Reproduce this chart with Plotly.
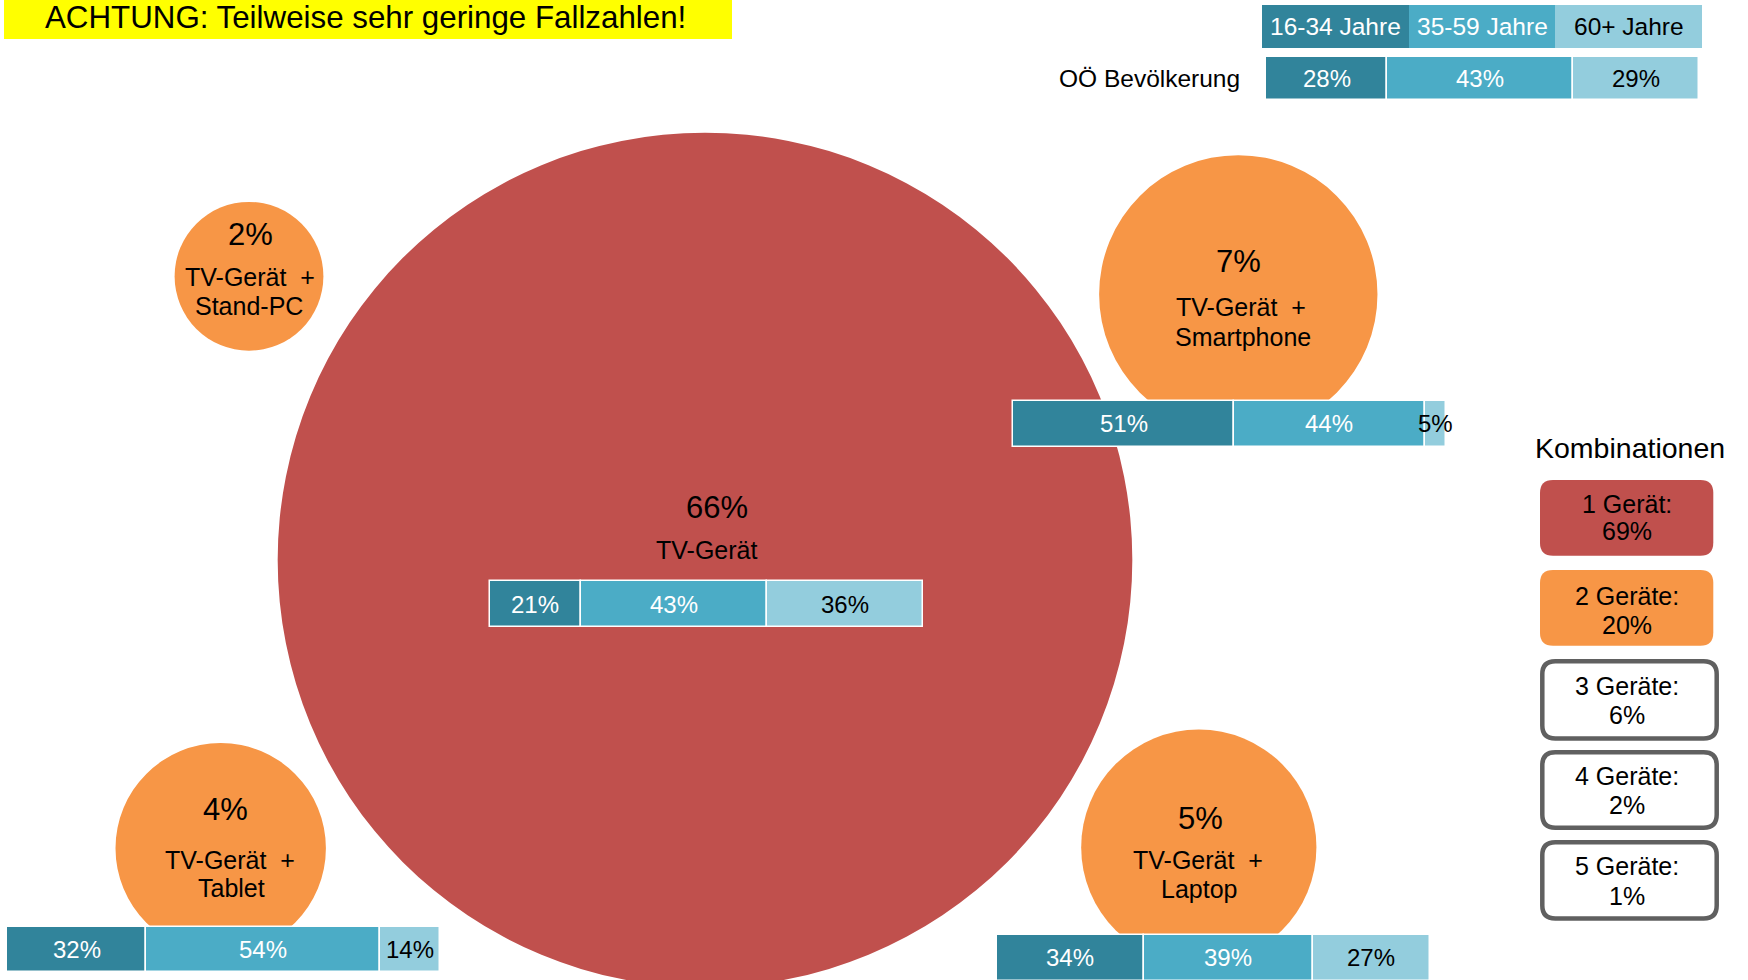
import plotly.graph_objects as go
import math

# ---------------- data ----------------
warning_text = "ACHTUNG: Teilweise sehr geringe Fallzahlen!"
age_groups = ["16-34 Jahre", "35-59 Jahre", "60+ Jahre"]
population_label = "OÖ Bevölkerung"
population_share = [28, 43, 29]

combo_pct_labels = ["66%", "7%", "5%", "4%", "2%"]
combo_share = [66, 7, 5, 4, 2]
combo_line1 = ["TV-Gerät", "TV-Gerät\u00a0 +", "TV-Gerät\u00a0 +", "TV-Gerät\u00a0 +", "TV-Gerät\u00a0 +"]
combo_line2 = ["", "Smartphone", "Laptop", "Tablet", "Stand-PC"]

# age split per combination (TV, Smartphone, Laptop, Tablet); Stand-PC has none
share_16_34 = [21, 51, 34, 32]
share_35_59 = [43, 44, 39, 54]
share_60plus = [36, 5, 27, 14]

legend_title = "Kombinationen"
legend_labels = ["1 Gerät:", "2 Geräte:", "3 Geräte:", "4 Geräte:", "5 Geräte:"]
legend_share = [69, 20, 6, 2, 1]

# ---------------- layout / style ----------------
W, H = 1748, 980
FONT = "Liberation Sans, Arial, sans-serif"
RED = "#C0504D"
ORANGE = "#F79646"
AGE_COLORS = ["#31849B", "#4BACC6", "#93CDDD"]
AGE_TEXT = ["white", "white", "black"]
GRAY = "#606060"

RADIUS_K = 52.6          # px per sqrt(percent)
BAR_SCALE = 4.33         # px per percent

circle_centers = [(705, 560), (1238.3, 294.3), (1198.8, 847.2), (220.7, 848.3), (249, 276.3)]
circle_colors = [RED, ORANGE, ORANGE, ORANGE, ORANGE]
pct_pos = [(717.4, 507), (1238.3, 261), (1200.5, 818), (225, 809), (250, 234)]
line1_pos = [(706, 550), (1241.3, 306.7), (1198.3, 859.7), (230, 859.5), (250, 277)]
line2_pos = [None, (1243.3, 337.3), (1198.7, 889), (231.7, 888.3), (249, 306)]

# bars: (left x, center y, height)
bar_pos = [(490, 604, 46), (1013.3, 423.7, 46), (996.7, 957.5, 46), (7.3, 949.2, 45)]
pop_bar = (1266, 78.3, 43)
header = (1262, 26.7, 43.3, 440)

legend_boxes = [
    (1540, 480, 1713.3, 555.7, RED, None),
    (1540, 570, 1713.3, 645.7, ORANGE, None),
    (1542.3, 661.3, 1716.7, 738.4, "white", GRAY),
    (1542.3, 752.3, 1716.7, 827.7, "white", GRAY),
    (1542.3, 842.3, 1716.7, 918.4, "white", GRAY),
]
legend_text_y = [(504, 531), (596, 625), (686, 715), (776, 805), (866, 896)]
legend_text_x = 1627

fig = go.Figure()
shapes = []
annotations = []

def ann(x, y, text, size, color="black", xanchor="center"):
    annotations.append(dict(x=x, y=y, xref="x", yref="y", text=text, showarrow=False,
                            xanchor=xanchor, yanchor="middle",
                            font=dict(family=FONT, size=size, color=color)))

# warning box
shapes.append(dict(type="rect", xref="x", yref="y", x0=4, x1=732, y0=0, y1=39,
                   fillcolor="#FFFF00", line=dict(width=0), layer="below"))
ann(365, 17, warning_text, 31.3)

# circles (area proportional to share)
for (cx, cy), p, col in zip(circle_centers, combo_share, circle_colors):
    r = RADIUS_K * math.sqrt(p)
    shapes.append(dict(type="circle", xref="x", yref="y", x0=cx - r, x1=cx + r,
                       y0=cy - r, y1=cy + r, fillcolor=col, line=dict(width=0), layer="below"))

for i in range(len(combo_share)):
    ann(pct_pos[i][0], pct_pos[i][1], combo_pct_labels[i], 31)
    ann(line1_pos[i][0], line1_pos[i][1], combo_line1[i], 25)
    if line2_pos[i] is not None:
        ann(line2_pos[i][0], line2_pos[i][1], combo_line2[i], 25)

# stacked age bars (combinations + population row)
series = [share_16_34, share_35_59, share_60plus]
rows = [(bp, [s[i] for s in series]) for i, bp in enumerate(bar_pos)]
rows.append((pop_bar, population_share))

for g in range(3):
    xs, bases, ys, ws = [], [], [], []
    for (left, cy, h), vals in rows:
        cum = sum(vals[:g])
        xs.append(vals[g] * BAR_SCALE)
        bases.append(left + cum * BAR_SCALE)
        ys.append(cy)
        ws.append(h)
    fig.add_trace(go.Bar(orientation="h", x=xs, base=bases, y=ys, width=ws,
                         marker=dict(color=AGE_COLORS[g], line=dict(color="white", width=1.5)),
                         hoverinfo="skip", showlegend=False))

for (left, cy, h), vals in rows:
    cum = 0
    for g, v in enumerate(vals):
        xc = left + (cum + v / 2) * BAR_SCALE
        ann(xc, cy, f"{v}%", 24, AGE_TEXT[g])
        cum += v

# header row (age group key)
hx, hy, hh, hw = header
for g, name in enumerate(age_groups):
    fig.add_trace(go.Bar(orientation="h", x=[hw / 3], base=[hx + g * hw / 3], y=[hy], width=[hh],
                         marker=dict(color=AGE_COLORS[g], line=dict(width=0)),
                         hoverinfo="skip", showlegend=False))
    ann(hx + (g + 0.5) * hw / 3, hy, name, 24.5, AGE_TEXT[g])

ann(1242, 78.5, population_label, 24.5, xanchor="right")

# legend of combinations
def rounded(x0, y0, x1, y1, r):
    return (f"M {x0 + r},{y0} L {x1 - r},{y0} Q {x1},{y0} {x1},{y0 + r} "
            f"L {x1},{y1 - r} Q {x1},{y1} {x1 - r},{y1} L {x0 + r},{y1} "
            f"Q {x0},{y1} {x0},{y1 - r} L {x0},{y0 + r} Q {x0},{y0} {x0 + r},{y0} Z")

ann(1630, 448, legend_title, 28.5)
for (x0, y0, x1, y1, fill, line), lab, val, (ty1, ty2) in zip(legend_boxes, legend_labels, legend_share, legend_text_y):
    shapes.append(dict(type="path", xref="x", yref="y", path=rounded(x0, y0, x1, y1, 13),
                       fillcolor=fill,
                       line=dict(color=line if line else fill, width=4.5 if line else 0),
                       layer="below"))
    ann(legend_text_x, ty1, lab, 25)
    ann(legend_text_x, ty2, f"{val}%", 25)

fig.update_layout(
    width=W, height=H, margin=dict(l=0, r=0, t=0, b=0),
    paper_bgcolor="white", plot_bgcolor="white",
    barmode="overlay", bargap=0,
    xaxis=dict(range=[0, W], visible=False, fixedrange=True),
    yaxis=dict(range=[H, 0], visible=False, fixedrange=True),
    shapes=shapes, annotations=annotations, showlegend=False,
)

fig.write_html("out.html", config={"displayModeBar": False},
               post_script="document.body.style.margin='0px';document.body.style.overflow='hidden';")
